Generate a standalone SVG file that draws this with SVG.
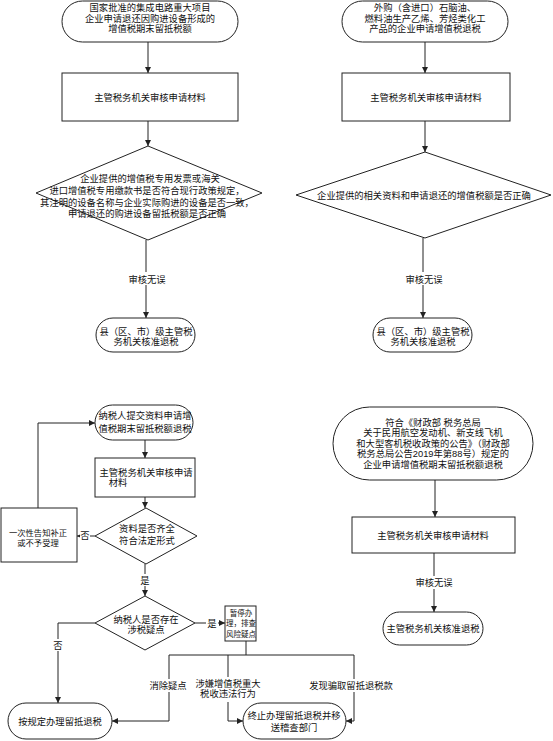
<svg xmlns="http://www.w3.org/2000/svg" width="553" height="741" viewBox="0 0 553 741">
<style>
.s{fill:#fff;stroke:#222;stroke-width:1}
.c{fill:none;stroke:#222;stroke-width:1}
text{font-family:"Liberation Sans","Noto Sans CJK SC",sans-serif;font-size:9.3px;fill:#111;text-anchor:middle}
.sm{font-size:7.5px}
.m{font-size:8.3px}
.bg{fill:#fff;stroke:none}
</style>
<defs>
<marker id="ah" markerWidth="6" markerHeight="6" refX="6" refY="3" orient="auto" markerUnits="userSpaceOnUse"><path d="M0,0 L6,3 L0,6 z" fill="#222"/></marker>
</defs>
<rect width="553" height="741" fill="#fff"/>

<g id="connectors">
<line class="c" x1="148" y1="42" x2="148" y2="73" marker-end="url(#ah)"/>
<line class="c" x1="148" y1="121" x2="148" y2="146" marker-end="url(#ah)"/>
<line class="c" x1="146" y1="240" x2="146" y2="318" marker-end="url(#ah)"/>
<line class="c" x1="425" y1="42" x2="425" y2="73" marker-end="url(#ah)"/>
<line class="c" x1="425" y1="121" x2="425" y2="152" marker-end="url(#ah)"/>
<line class="c" x1="423" y1="238" x2="423" y2="318" marker-end="url(#ah)"/>
<line class="c" x1="145" y1="440" x2="145" y2="458" marker-end="url(#ah)"/>
<line class="c" x1="145" y1="497" x2="145" y2="508" marker-end="url(#ah)"/>
<line class="c" x1="95" y1="536" x2="77" y2="536" marker-end="url(#ah)"/>
<polyline class="c" points="38,508 38,423 95,423" marker-end="url(#ah)"/>
<line class="c" x1="145" y1="564" x2="145" y2="596" marker-end="url(#ah)"/>
<line class="c" x1="195" y1="623" x2="225" y2="623" marker-end="url(#ah)"/>
<polyline class="c" points="95,623 58,623 58,703" marker-end="url(#ah)"/>
<line class="c" x1="246" y1="641" x2="246" y2="655"/>
<line class="c" x1="169" y1="655" x2="354" y2="655"/>
<polyline class="c" points="169,655 169,721 112,721" marker-end="url(#ah)"/>
<polyline class="c" points="228,655 228,721 243,721" marker-end="url(#ah)"/>
<polyline class="c" points="354,655 354,721 346,721" marker-end="url(#ah)"/>
<line class="c" x1="435" y1="480" x2="435" y2="517" marker-end="url(#ah)"/>
<line class="c" x1="434" y1="553" x2="434" y2="612" marker-end="url(#ah)"/>
<g id="labels">
<rect class="bg" x="126" y="272" width="42" height="13"/><text x="147" y="282.5">审核无误</text>
<rect class="bg" x="403" y="272" width="42" height="13"/><text x="424" y="282.5">审核无误</text>
<rect class="bg" x="80" y="530" width="10" height="12"/><text x="85" y="539">否</text>
<rect class="bg" x="139" y="574" width="12" height="12"/><text x="145" y="583.5">是</text>
<rect class="bg" x="206" y="617" width="12" height="12"/><text x="212" y="626.5">是</text>
<rect class="bg" x="52" y="639" width="12" height="12"/><text x="58" y="648.5">否</text>
<rect class="bg" x="147" y="679" width="42" height="13"/><text x="168" y="688.5">消除疑点</text>
<rect class="bg" x="196" y="677" width="64" height="25"/><text x="228" y="686.5">涉嫌增值税重大<tspan x="228" dy="10.6">税收违法行为</tspan></text>
<rect class="bg" x="308" y="679" width="88" height="13"/><text x="351" y="688.5">发现骗取留抵退税款</text>
<rect class="bg" x="412" y="576" width="44" height="13"/><text x="434" y="585.5">审核无误</text>
</g>
</g>

<g id="n1"><rect class="s" x="62" y="1" width="176" height="41" rx="20.5"/>
<text x="150" y="11">国家批准的集成电路重大项目<tspan x="150" dy="10.6">企业申请退还因购进设备形成的</tspan><tspan x="150" dy="10.6">增值税期末留抵税额</tspan></text></g>
<g id="n2"><rect class="s" x="342" y="1" width="166" height="41" rx="20.5"/>
<text x="425" y="11">外购（含进口）石脑油、<tspan x="425" dy="10.6">燃料油生产乙烯、芳烃类化工</tspan><tspan x="425" dy="10.6">产品的企业申请增值税退税</tspan></text></g>
<g id="n3"><rect class="s" x="62" y="73" width="176" height="48"/>
<text x="150" y="100.5">主管税务机关审核申请材料</text></g>
<g id="n4"><rect class="s" x="342" y="73" width="168" height="48"/>
<text x="426" y="100.5">主管税务机关审核申请材料</text></g>
<g id="n5"><polygon class="s" points="148,146 262,193 148,240 36,193"/>
<text x="150" y="181.5">企业提供的增值税专用发票或海关<tspan x="147" dy="12">进口增值税专用缴款书是否符合现行政策规定，</tspan><tspan x="147" dy="12">其注明的设备名称与企业实际购进的设备是否一致，</tspan><tspan x="147" dy="11.5">申请退还的购进设备留抵税额是否正确</tspan></text></g>
<g id="n6"><polygon class="s" points="425,152 551,195 425,238 296,195"/>
<text x="424" y="198.5">企业提供的相关资料和申请退还的增值税额是否正确</text></g>
<g id="n7"><rect class="s" x="96" y="318" width="99" height="34" rx="17"/>
<text x="146" y="334.5">县（区、市）级主管税<tspan x="146" dy="10.6">务机关核准退税</tspan></text></g>
<g id="n8"><rect class="s" x="373" y="318" width="99" height="34" rx="17"/>
<text x="423" y="334.5">县（区、市）级主管税<tspan x="423" dy="10.6">务机关核准退税</tspan></text></g>

<g id="n9"><rect class="s" x="95" y="405" width="98" height="35" rx="17.5"/>
<text x="145" y="418.5">纳税人提交资料申请增<tspan x="145" dy="13">值税期末留抵税额退税</tspan></text></g>
<g id="n10"><rect class="s" x="95" y="458" width="100" height="39"/>
<text x="146" y="475.5">主管税务机关审核申请<tspan x="118" dy="10.6">材料</tspan></text></g>
<g id="n11"><polygon class="s" points="146,508 197,536 146,564 95,536"/>
<text x="147" y="531.5">资料是否齐全<tspan x="147" dy="12">符合法定形式</tspan></text></g>
<g id="n12"><rect class="s" x="1" y="508" width="76" height="54"/>
<text class="m" x="38" y="535.5">一次性告知补正<tspan x="38" dy="10.6">或不予受理</tspan></text></g>
<g id="n13"><polygon class="s" points="145,596 195,623 145,650 95,623"/>
<text x="146" y="622.5">纳税人是否存在<tspan x="146" dy="10.6">涉税疑点</tspan></text></g>
<g id="n14"><rect class="s" x="225" y="606" width="31" height="35"/>
<text class="sm" x="241" y="616">暂停办<tspan x="241" dy="10">理，排查</tspan><tspan x="241" dy="11">风险疑点</tspan></text></g>
<g id="n15"><rect class="s" x="8" y="703" width="104" height="36" rx="18"/>
<text x="60" y="724.5">按规定办理留抵退税</text></g>
<g id="n16"><rect class="s" x="243" y="703" width="103" height="36" rx="18"/>
<text x="294" y="719">终止办理留抵退税并移<tspan x="294" dy="11.5">送稽查部门</tspan></text></g>

<g id="n17"><rect class="s" x="333" y="407" width="200" height="73" rx="36.5"/>
<text x="433" y="425.5">符合《财政部 税务总局<tspan x="433" dy="10.6">关于民用航空发动机、新支线飞机</tspan><tspan x="433" dy="10.6">和大型客机税收政策的公告》（财政部</tspan><tspan x="433" dy="10.6">税务总局公告2019年第88号）规定的</tspan><tspan x="433" dy="10.6">企业申请增值税期末留抵税额退税</tspan></text></g>
<g id="n18"><rect class="s" x="352" y="517" width="163" height="36"/>
<text x="433" y="538.5">主管税务机关审核申请材料</text></g>
<g id="n19"><rect class="s" x="383" y="612" width="100" height="33" rx="16.5"/>
<text x="433" y="631.5">主管税务机关核准退税</text></g>
</svg>
